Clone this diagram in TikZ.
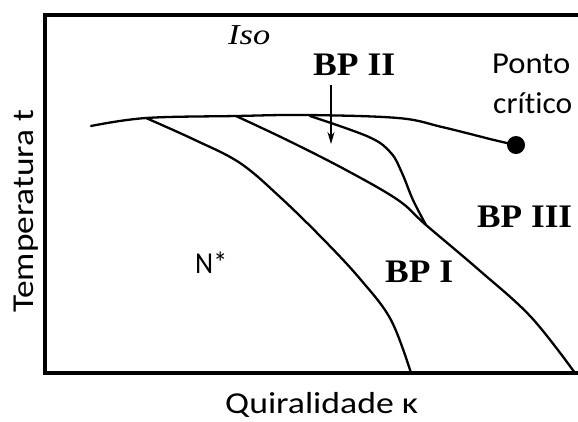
\documentclass[tikz,border=0pt]{standalone}
\usepackage{fontspec}
\setmainfont{Carlito}[Ligatures=NoCommon]
\newfontfamily\tms{Liberation Serif}
\usetikzlibrary{arrows.meta}
\begin{document}
\begin{tikzpicture}[x=1bp,y=-1bp,
  curve/.style={line width=2.3bp, line join=round, line cap=round},
  bplab/.style={font=\tms\bfseries\fontsize{33}{36}\selectfont, inner sep=0pt, anchor=base west},
  lab/.style={font=\fontsize{30.5}{40}\selectfont, inner sep=0pt, anchor=base west}]
\useasboundingbox (0,0) rectangle (578,421);
\draw[line width=3.5bp] (579,15) -- (45,15) -- (45,373) -- (579,373);
\coordinate (j1) at (146,118);
\coordinate (j2) at (236,116);
\coordinate (j3) at (310,116);
\coordinate (j4) at (426,225);
\node[circle, fill, inner sep=0pt, minimum size=18bp] (cp) at (516,145) {};
\draw[curve] plot[smooth, tension=0.6] coordinates {(91,126) (j1) (j2) (306,115) (398,118) (442,127) (494,140) (cp.center)};
\draw[curve] plot[smooth, tension=0.6] coordinates {(j1) (195,140) (240,163) (280,197) (324,240) (361,280) (391,320) (411,373)};
\draw[curve] plot[smooth, tension=0.6] coordinates {(j2) (287,140) (346,170) (398,200) (j4) (479,270) (531,317) (575,373)};
\draw[curve] plot[smooth, tension=0.6] coordinates {(j3) (369,137) (391,153) (402,173) (413,200) (j4)};
\coordinate (arT) at (331,85);
\coordinate (arB) at (331,144);
\draw[line width=1.3bp, -{Stealth[length=12bp,width=7bp]}] (arT) -- (arB);
\node[font=\tms\itshape\fontsize{29}{30}\selectfont, inner sep=0pt, anchor=base west] (iso) at (228,44) {\resizebox{42bp}{\height}{Iso}};
\node[bplab] (bp2) at (313,75) {\resizebox{82bp}{\height}{BP II}};
\node[bplab] (bp3) at (477,227) {\resizebox{95bp}{\height}{BP III}};
\node[bplab] (bp1) at (385,282) {\resizebox{68bp}{\height}{BP I}};
\node[lab] (pc1) at (492,73) {\resizebox{78bp}{\height}{Ponto}};
\node[lab] (pc2) at (493,113) {\resizebox{79bp}{\height}{crítico}};
\node[lab] (ns) at (195,273) {\resizebox{32bp}{\height}{N*}};
\node[lab, rotate=90] (yl) at (33,313) {\resizebox{203bp}{\height}{Temperatura t}};
\node[lab] (xl) at (225,413) {\resizebox{193bp}{\height}{Quiralidade κ}};
\end{tikzpicture}
\end{document}
